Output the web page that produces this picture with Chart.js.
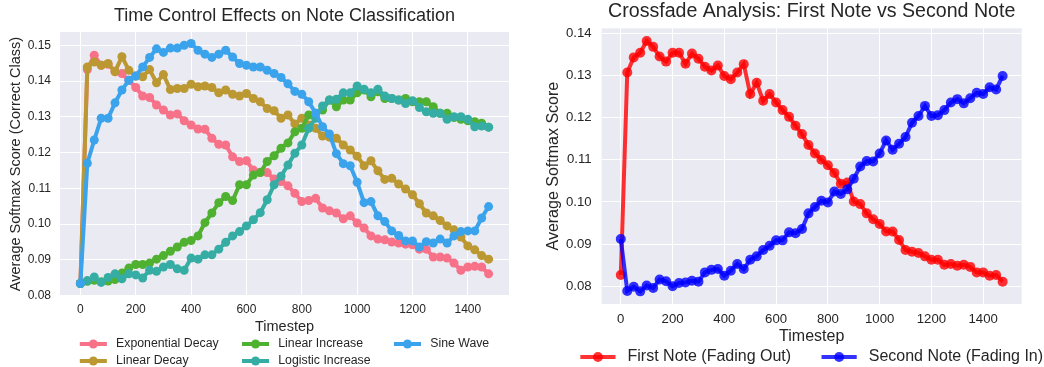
<!DOCTYPE html>
<html>
<head>
<meta charset="utf-8">
<title>Time control and crossfade</title>
<script src="https://cdn.jsdelivr.net/npm/chart.js@4.4.1/dist/chart.umd.min.js"></script>
<style>
  html, body { margin: 0; padding: 0; background: #fff; overflow: hidden; }
  #wrap { position: relative; width: 1044px; height: 367px; }
  canvas { position: absolute; top: 0; }
  #timeChart { left: 0; }
  #fadeChart { left: 520px; }
</style>
</head>
<body>
<div id="wrap">
  <canvas id="timeChart" width="520" height="367"></canvas>
  <canvas id="fadeChart" width="524" height="367"></canvas>
</div>
<script>
const timesteps = [
  0, 25, 50, 75, 100, 125, 150, 175, 200, 225,
  250, 275, 300, 325, 350, 375, 400, 425, 450, 475,
  500, 525, 550, 575, 600, 625, 650, 675, 700, 725,
  750, 775, 800, 825, 850, 875, 900, 925, 950, 975,
  1000, 1025, 1050, 1075, 1100, 1125, 1150, 1175, 1200, 1225,
  1250, 1275, 1300, 1325, 1350, 1375, 1400, 1425, 1450, 1475
];
const timestepTicks = [0, 200, 400, 600, 800, 1000, 1200, 1400];
const controlScoreTicks = [0.08, 0.09, 0.10, 0.11, 0.12, 0.13, 0.14, 0.15];
const fadeScoreTicks = [0.08, 0.09, 0.10, 0.11, 0.12, 0.13, 0.14];

// left chart: time control curves
const exponentialDecay = [
  0.0834, 0.1432, 0.1472, 0.1444, 0.1447, 0.1427, 0.1421, 0.1402, 0.1382, 0.1358,
  0.1354, 0.1333, 0.1319, 0.1305, 0.1308, 0.1289, 0.1277, 0.1266, 0.1265, 0.1240,
  0.1223, 0.1221, 0.1188, 0.1175, 0.1177, 0.1151, 0.1145, 0.1144, 0.1126, 0.1119,
  0.1107, 0.1086, 0.1063, 0.1066, 0.1072, 0.1045, 0.1037, 0.1031, 0.1015, 0.1023,
  0.1003, 0.0989, 0.0967, 0.0958, 0.0956, 0.0950, 0.0947, 0.0944, 0.0942, 0.0930,
  0.0930, 0.0908, 0.0908, 0.0905, 0.0891, 0.0871, 0.0880, 0.0882, 0.0880, 0.0861
];
const linearDecay = [
  0.0834, 0.1439, 0.1453, 0.1444, 0.1449, 0.1426, 0.1468, 0.1430, 0.1414, 0.1412,
  0.1432, 0.1395, 0.1418, 0.1376, 0.1379, 0.1379, 0.1391, 0.1384, 0.1386, 0.1382,
  0.1367, 0.1375, 0.1363, 0.1358, 0.1365, 0.1351, 0.1342, 0.1323, 0.1317, 0.1296,
  0.1305, 0.1280, 0.1296, 0.1277, 0.1268, 0.1246, 0.1243, 0.1240, 0.1221, 0.1207,
  0.1190, 0.1163, 0.1177, 0.1149, 0.1125, 0.1128, 0.1112, 0.1098, 0.1082, 0.1057,
  0.1031, 0.1023, 0.1010, 0.0995, 0.0984, 0.0964, 0.0939, 0.0928, 0.0912, 0.0902
];
const linearIncrease = [
  0.0834, 0.0840, 0.0843, 0.0839, 0.0841, 0.0845, 0.0863, 0.0877, 0.0887, 0.0887,
  0.0891, 0.0902, 0.0912, 0.0924, 0.0936, 0.0949, 0.0954, 0.0967, 0.1004, 0.1031,
  0.1060, 0.1077, 0.1066, 0.1110, 0.1110, 0.1137, 0.1144, 0.1175, 0.1191, 0.1212,
  0.1227, 0.1258, 0.1268, 0.1305, 0.1310, 0.1319, 0.1347, 0.1328, 0.1347, 0.1347,
  0.1367, 0.1375, 0.1356, 0.1370, 0.1351, 0.1351, 0.1347, 0.1351, 0.1342, 0.1342,
  0.1342, 0.1328, 0.1310, 0.1310, 0.1298, 0.1293, 0.1289, 0.1286, 0.1282, 0.1271
];
const logisticIncrease = [
  0.0834, 0.0842, 0.0852, 0.0837, 0.0851, 0.0861, 0.0847, 0.0861, 0.0858, 0.0849,
  0.0871, 0.0868, 0.0880, 0.0887, 0.0875, 0.0871, 0.0905, 0.0902, 0.0914, 0.0914,
  0.0930, 0.0949, 0.0967, 0.0979, 0.0995, 0.1012, 0.1032, 0.1068, 0.1110, 0.1134,
  0.1165, 0.1198, 0.1221, 0.1268, 0.1296, 0.1330, 0.1347, 0.1349, 0.1367, 0.1367,
  0.1386, 0.1377, 0.1367, 0.1377, 0.1358, 0.1351, 0.1347, 0.1337, 0.1345, 0.1326,
  0.1314, 0.1310, 0.1310, 0.1293, 0.1300, 0.1300, 0.1293, 0.1272, 0.1274, 0.1271
];
const sineWave = [
  0.0834, 0.1170, 0.1235, 0.1296, 0.1296, 0.1339, 0.1375, 0.1402, 0.1414, 0.1439,
  0.1466, 0.1490, 0.1480, 0.1492, 0.1492, 0.1500, 0.1505, 0.1486, 0.1475, 0.1466,
  0.1475, 0.1486, 0.1467, 0.1449, 0.1444, 0.1439, 0.1439, 0.1430, 0.1421, 0.1410,
  0.1392, 0.1371, 0.1363, 0.1342, 0.1310, 0.1272, 0.1252, 0.1197, 0.1169, 0.1163,
  0.1117, 0.1060, 0.1063, 0.1023, 0.1007, 0.0981, 0.0968, 0.0953, 0.0953, 0.0936,
  0.0951, 0.0947, 0.0958, 0.0947, 0.0967, 0.0979, 0.0981, 0.0981, 0.1017, 0.1049
];

// right chart: crossfade
const firstNote = [
  0.0827, 0.1307, 0.1343, 0.1354, 0.1382, 0.1368, 0.1345, 0.1333, 0.1354, 0.1354,
  0.1328, 0.1352, 0.1340, 0.1321, 0.1312, 0.1324, 0.1299, 0.1291, 0.1307, 0.1327,
  0.1256, 0.1283, 0.1240, 0.1256, 0.1236, 0.1218, 0.1202, 0.1181, 0.1161, 0.1135,
  0.1115, 0.1100, 0.1087, 0.1069, 0.1043, 0.1046, 0.1001, 0.0995, 0.0973, 0.0959,
  0.0948, 0.0930, 0.0930, 0.0910, 0.0886, 0.0882, 0.0879, 0.0871, 0.0863, 0.0863,
  0.0851, 0.0853, 0.0849, 0.0851, 0.0846, 0.0833, 0.0833, 0.0825, 0.0827, 0.0811
];
const secondNote = [
  0.0912, 0.0789, 0.0799, 0.0788, 0.0802, 0.0796, 0.0816, 0.0812, 0.0800, 0.0808,
  0.0809, 0.0813, 0.0811, 0.0833, 0.0839, 0.0841, 0.0825, 0.0837, 0.0853, 0.0841,
  0.0863, 0.0871, 0.0886, 0.0896, 0.0909, 0.0909, 0.0928, 0.0926, 0.0936, 0.0973,
  0.0988, 0.1003, 0.0999, 0.1025, 0.1019, 0.1030, 0.1055, 0.1084, 0.1097, 0.1096,
  0.1115, 0.1146, 0.1124, 0.1138, 0.1154, 0.1188, 0.1204, 0.1228, 0.1204, 0.1206,
  0.1218, 0.1236, 0.1244, 0.1234, 0.1246, 0.1259, 0.1256, 0.1272, 0.1267, 0.1299
];

const FONT = '"Liberation Sans", Arial, sans-serif';
Chart.defaults.font.family = FONT;
Chart.defaults.color = '#262626';
Chart.defaults.animation = false;

// grey plot area like seaborn darkgrid
const plotBackground = {
  id: 'plotBackground',
  beforeDraw(chart, args, opts) {
    const { ctx, chartArea: a } = chart;
    ctx.save();
    ctx.fillStyle = opts.color;
    ctx.fillRect(a.left, a.top, a.width, a.height);
    ctx.restore();
  }
};

// matplotlib style legend: column-major, line + marker handles, centred under the axes
const columnLegend = {
  id: 'columnLegend',
  afterDraw(chart, args, opts) {
    const { ctx, chartArea } = chart;
    const sets = chart.data.datasets;
    const size = opts.fontSize;
    const handle = size * 2.2, textPad = size * 0.75, colGap = size * 1.9;
    ctx.save();
    ctx.font = size + 'px ' + FONT;
    const rows = Math.ceil(sets.length / opts.columns);
    const cols = [];
    sets.forEach((ds, i) => {
      const c = Math.floor(i / rows);
      (cols[c] = cols[c] || []).push(ds);
    });
    const widths = cols.map(col => Math.max(...col.map(ds => ctx.measureText(ds.label).width)));
    const total = widths.reduce((sum, w) => sum + handle + textPad + w, 0) + colGap * (cols.length - 1);
    let x = (chartArea.left + chartArea.right) / 2 - total / 2;
    const y0 = chart.scales.x.bottom + opts.offset;
    cols.forEach((col, c) => {
      col.forEach((ds, r) => {
        const y = y0 + r * opts.rowHeight;
        ctx.strokeStyle = ds.borderColor;
        ctx.lineWidth = ds.borderWidth;
        ctx.beginPath();
        ctx.moveTo(x, y);
        ctx.lineTo(x + handle, y);
        ctx.stroke();
        ctx.fillStyle = ds.pointBackgroundColor;
        ctx.beginPath();
        ctx.arc(x + handle / 2, y, ds.pointRadius, 0, Math.PI * 2);
        ctx.fill();
        ctx.fillStyle = '#262626';
        ctx.textBaseline = 'middle';
        ctx.fillText(ds.label, x + handle + textPad, y);
      });
      x += handle + textPad + widths[c] + colGap;
    });
    ctx.restore();
  }
};

function series(label, values, color, width, radius) {
  return {
    label,
    data: values.map((v, i) => ({ x: timesteps[i], y: v })),
    borderColor: color,
    backgroundColor: color,
    pointBackgroundColor: color,
    borderWidth: width,
    pointRadius: radius,
    pointBorderWidth: 0,
    pointHoverRadius: radius,
    tension: 0,
    fill: false
  };
}

function axes(o) {
  return {
    x: {
      type: 'linear',
      min: -73.75,
      max: 1548.75,
      afterBuildTicks: s => { s.ticks = timestepTicks.map(v => ({ value: v })); },
      grid: { color: '#ffffff', lineWidth: 1, drawTicks: false },
      border: { display: false },
      ticks: {
        maxRotation: 0, autoSkip: false,
        padding: o.xTickPad, font: { size: o.tickSize },
        callback: v => String(v)
      },
      title: { display: true, text: 'Timestep', font: { size: o.labelSize }, padding: 0 },
      afterFit: s => { s.height = o.xHeight; }
    },
    y: {
      min: o.yMin,
      max: o.yMax,
      afterBuildTicks: s => { s.ticks = o.yTicks.map(v => ({ value: v })); },
      grid: { color: '#ffffff', lineWidth: 1, drawTicks: false },
      border: { display: false },
      ticks: {
        autoSkip: false,
        padding: o.yTickPad, font: { size: o.tickSize },
        callback: v => v.toFixed(2)
      },
      title: {
        display: true, text: o.yTitle, font: { size: o.labelSize },
        padding: { top: o.yTitlePad, bottom: 0 }
      },
      afterFit: s => { s.width = o.yWidth; }
    }
  };
}

const timeSets = [
  series('Exponential Decay', exponentialDecay, '#f77189', 4, 4.5),
  series('Linear Decay', linearDecay, '#bb9832', 4, 4.5),
  series('Linear Increase', linearIncrease, '#50b131', 4, 4.5),
  series('Logistic Increase', logisticIncrease, '#36ada4', 4, 4.5),
  series('Sine Wave', sineWave, '#3ba3ec', 4, 4.5)
];
// later series on top, as in matplotlib
timeSets.forEach((ds, i) => { ds.order = timeSets.length - i; });

new Chart(document.getElementById('timeChart'), {
  type: 'line',
  data: { datasets: timeSets },
  plugins: [plotBackground, columnLegend],
  options: {
    responsive: false,
    layout: { padding: { left: 0, right: 11, top: 0, bottom: 31 } },
    scales: axes({
      yMin: 0.0799, yMax: 0.1537, yTicks: controlScoreTicks, yWidth: 60, xHeight: 40,
      tickSize: 12, labelSize: 14.5, xTickPad: 6, yTickPad: 9, yTitlePad: 7,
      yTitle: 'Average Softmax Score (Correct Class)'
    }),
    plugins: {
      legend: { display: false },
      tooltip: { enabled: false },
      title: {
        display: true, fullSize: false,
        text: 'Time Control Effects on Note Classification',
        font: { size: 18, weight: 'normal' },
        padding: { top: 5, bottom: 5.4 }
      },
      plotBackground: { color: '#eaeaf2' },
      columnLegend: { columns: 3, fontSize: 12.3, offset: 8, rowHeight: 17 }
    }
  }
});

const fadeSets = [
  series('First Note (Fading Out)', firstNote, 'rgba(255, 0, 0, 0.8)', 4, 5),
  series('Second Note (Fading In)', secondNote, 'rgba(0, 0, 255, 0.8)', 4, 5)
];
fadeSets.forEach((ds, i) => { ds.order = fadeSets.length - i; });

new Chart(document.getElementById('fadeChart'), {
  type: 'line',
  data: { datasets: fadeSets },
  plugins: [plotBackground, columnLegend],
  options: {
    responsive: false,
    layout: { padding: { left: 0, right: 22.3, top: 0, bottom: 21 } },
    scales: axes({
      yMin: 0.0758, yMax: 0.1412, yTicks: fadeScoreTicks, yWidth: 81.7, xHeight: 42,
      tickSize: 13.2, labelSize: 16, xTickPad: 7, yTickPad: 10, yTitlePad: 23.7,
      yTitle: 'Average Softmax Score'
    }),
    plugins: {
      legend: { display: false },
      tooltip: { enabled: false },
      title: {
        display: true, fullSize: false,
        text: 'Crossfade Analysis: First Note vs Second Note',
        font: { size: 19.6, weight: 'normal' },
        padding: { top: 0, bottom: 4.8 }
      },
      plotBackground: { color: '#eaeaf2' },
      columnLegend: { columns: 2, fontSize: 16, offset: 11, rowHeight: 17 }
    }
  }
});
</script>
</body>
</html>
